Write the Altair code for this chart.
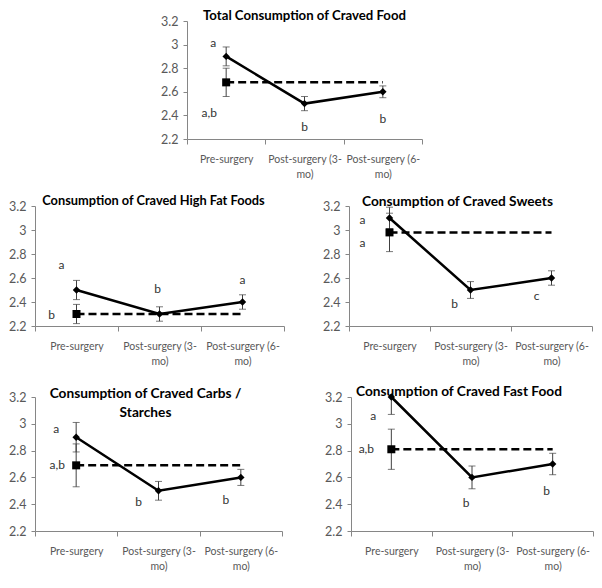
import altair as alt
import pandas as pd

categories = ["Pre-surgery", "Post-surgery (3-mo)", "Post-surgery (6-mo)"]
panel_titles = [
    "Total Consumption of Craved Food",
    "Consumption of Craved High Fat Foods",
    "Consumption of Craved Sweets",
    "Consumption of Craved Carbs /\nStarches",
    "Consumption of Craved Fast Food",
]
surgery_means = [
    [2.90, 2.50, 2.60],
    [2.50, 2.30, 2.40],
    [3.10, 2.50, 2.60],
    [2.90, 2.50, 2.60],
    [3.20, 2.60, 2.70],
]
surgery_errors = [
    [0.08, 0.06, 0.05],
    [0.08, 0.06, 0.06],
    [0.09, 0.07, 0.06],
    [0.11, 0.07, 0.06],
    [0.13, 0.085, 0.08],
]
control_means = [2.68, 2.30, 2.98, 2.69, 2.81]
control_errors = [0.12, 0.08, 0.16, 0.16, 0.15]
letter_texts = [
    ["a", "a,b", "b", "b"],
    ["a", "b", "b", "a"],
    ["a", "a", "b", "c"],
    ["a", "a,b", "b", "b"],
    ["a", "a,b", "b", "b"],
]
letter_cats = [[0, 0, 1, 2]] * 5
letter_values = [
    [3.01, 2.42, 2.30, 2.37],
    [2.71, 2.29, 2.51, 2.58],
    [3.08, 2.89, 2.38, 2.45],
    [2.96, 2.69, 2.42, 2.43],
    [3.06, 2.81, 2.41, 2.50],
]
y_ticks = [2.2, 2.4, 2.6, 2.8, 3.0, 3.2]

# layout / styling (pixels)
letter_dx = [
    [-13, -17, 0, 0],
    [-15, -25, -2, 0],
    [-27, -27, -16, -15],
    [-20, -19, -20, -15],
    [-18, -25, -6, -6],
]
panel_sizes = [(235, 118), (249, 120), (243, 120), (247, 134), (242, 134)]
title_dx = [0, -6, -13, -13, -13]
title_dy = [-5, -5, -4, -3, -5]
title_sizes = [13.2, 12.8, 13.7, 13.7, 13.7]

FONT = "Lato"
AXIS_GREY = "#868686"
LABEL_GREY = "#595959"

label_expr = ("isValid(datum.value) ? (datum.value == 'Pre-surgery' ? datum.value : "
              "[substring(datum.value, 0, 16), substring(datum.value, 16, 40)]) : ''")


def x_enc():
    return alt.X(
        "cat:N",
        sort=categories,
        scale=alt.Scale(type="band", domain=categories, paddingInner=0, paddingOuter=0),
        axis=alt.Axis(
            title=None, labelAngle=0, tickBand="extent", grid=False,
            domainColor=AXIS_GREY, tickColor=AXIS_GREY, tickSize=5,
            labelFont=FONT, labelFontSize=10.5, labelColor=LABEL_GREY,
            labelPadding=10, labelLineHeight=15, labelExpr=label_expr,
            labelBaseline="top",
        ),
    )


def y_enc(field):
    return alt.Y(
        f"{field}:Q",
        scale=alt.Scale(domain=[2.2, 3.2], nice=False, zero=False),
        axis=alt.Axis(
            title=None, values=y_ticks, format="~g", grid=False,
            domainColor=AXIS_GREY, tickColor=AXIS_GREY, tickSize=4,
            labelFont=FONT, labelFontSize=12.5, labelColor=LABEL_GREY,
            labelPadding=5,
        ),
    )


def panel(i):
    w, h = panel_sizes[i]
    bars = pd.DataFrame({
        "cat": categories + [categories[0]],
        "lo": [m - e for m, e in zip(surgery_means[i], surgery_errors[i])]
        + [control_means[i] - control_errors[i]],
        "hi": [m + e for m, e in zip(surgery_means[i], surgery_errors[i])]
        + [control_means[i] + control_errors[i]],
    })
    surg = pd.DataFrame({"cat": categories, "mean": surgery_means[i]})
    ctrl_pt = pd.DataFrame({"cat": [categories[0]], "mean": [control_means[i]]})
    ctrl_ln = pd.DataFrame({"cat": [categories[0], categories[2]],
                            "mean": [control_means[i]] * 2})

    base_rule = alt.Chart(bars).mark_rule(color="#404040", strokeWidth=1, clip=True).encode(
        x=x_enc(), y=y_enc("lo"), y2="hi:Q")
    cap_lo = alt.Chart(bars).mark_tick(color="#404040", thickness=1, size=7, clip=True).encode(
        x=x_enc(), y=y_enc("lo"))
    cap_hi = alt.Chart(bars).mark_tick(color="#404040", thickness=1, size=7, clip=True).encode(
        x=x_enc(), y=y_enc("hi"))
    dashed = alt.Chart(ctrl_ln).mark_line(color="black", strokeWidth=2.5, strokeDash=[8, 4]).encode(
        x=x_enc(), y=y_enc("mean"))
    square = alt.Chart(ctrl_pt).mark_point(shape="square", filled=True, size=64, color="black",
                                           opacity=1).encode(x=x_enc(), y=y_enc("mean"))
    solid = alt.Chart(surg).mark_line(color="black", strokeWidth=2.5).encode(
        x=x_enc(), y=y_enc("mean"))
    diamonds = alt.Chart(surg).mark_point(shape="diamond", filled=True, size=55, color="black",
                                          opacity=1).encode(x=x_enc(), y=y_enc("mean"))
    layers = [base_rule, cap_lo, cap_hi, dashed, square, solid, diamonds]
    for t, c, v, dx in zip(letter_texts[i], letter_cats[i], letter_values[i], letter_dx[i]):
        ld = pd.DataFrame({"cat": [categories[c]], "ly": [v], "txt": [t]})
        layers.append(
            alt.Chart(ld).mark_text(font=FONT, fontSize=12, color="#333333", dx=dx,
                                    baseline="middle", align="center").encode(
                x=x_enc(), y=y_enc("ly"), text="txt:N"))
    td = pd.DataFrame({"title": [panel_titles[i]]})
    layers.append(
        alt.Chart(td).mark_text(font=FONT, fontSize=title_sizes[i], fontWeight="bold",
                                color="black", align="center", baseline="middle",
                                lineBreak="\n", lineHeight=19).encode(
            x=alt.value(w / 2 + title_dx[i]), y=alt.value(title_dy[i]), text="title:N"))
    return alt.layer(*layers).properties(width=w, height=h)


spacer = alt.Chart(pd.DataFrame({"v": [0]})).mark_point(opacity=0).encode(
    x=alt.value(0), y=alt.value(0)).properties(width=100, height=118)

top = alt.hconcat(spacer, panel(0), spacing=52, bounds="flush")
mid = alt.hconcat(panel(1), panel(2), spacing=65, bounds="flush")
bot = alt.hconcat(panel(3), panel(4), spacing=69, bounds="flush")

chart = alt.vconcat(top, alt.vconcat(mid, bot, spacing=18), spacing=15).properties(
    padding={"left": 0, "top": 1, "right": 0, "bottom": 0}
).configure_view(strokeWidth=0)

chart.save("out.html", embed_options={"renderer": "svg", "actions": False})
